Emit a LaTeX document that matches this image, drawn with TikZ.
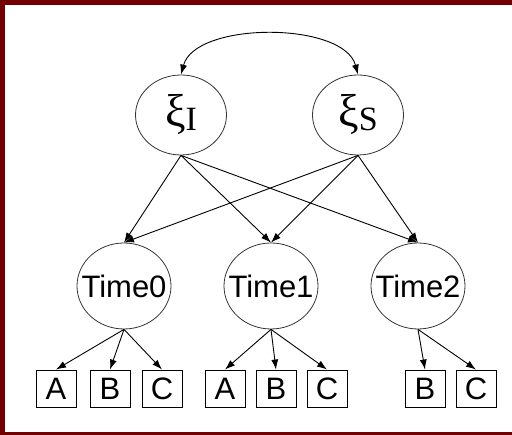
\documentclass[tikz,border=0pt]{standalone}
\usepackage{fontspec}
\setmainfont{Liberation Sans}
\newfontfamily\greekfont{Liberation Serif}
\usetikzlibrary{arrows.meta,shapes}
\definecolor{framered}{RGB}{114,0,0}
\tikzstyle{factor}=[ellipse,draw=black!80,line width=0.8pt,fill=white,
minimum width=91pt,minimum height=80pt,inner sep=0pt]
\tikzstyle{occasion}=[ellipse,draw=black!80,line width=0.8pt,inner xsep=-16pt,
minimum width=94pt,minimum height=86pt,font=\fontsize{31}{31}\selectfont]
\tikzstyle{indicator}=[rectangle,draw,line width=0.9pt,minimum width=40pt,
minimum height=37pt,inner sep=0pt,font=\fontsize{31}{31}\selectfont]
\tikzstyle{link}=[-{Latex[length=10pt,width=7pt]},line width=0.9pt]
\tikzstyle{twoway}=[{Latex[length=10pt,width=7pt]}-{Latex[length=10pt,width=7pt]},line width=0.9pt]
\newcommand{\fac}[1]{{\greekfont\raisebox{4pt}{\fontsize{46}{46}\selectfont ξ}\fontsize{34}{34}\selectfont #1}}

\begin{document}
\begin{tikzpicture}[x=1pt,y=1pt]
            \useasboundingbox (0,0) rectangle (512,435);
            % frame
            \fill[framered] (0,430) rectangle (512,435);
            \fill[framered] (0,0) rectangle (5,435);
            \fill[framered] (0,0) rectangle (512,3);

            % FACTORS

            \node[factor] (xiI) at (181,320) {\fac{I}};
            \node[factor] (xiS) at (358,320) {\fac{S}};

            \path[twoway] (xiI.north) edge[out=75,in=105,looseness=0.8] (xiS.north);

            % OCCASIONS

            \node[occasion] (t0) at (124,149) {Time0};
            \node[occasion] (t1) at (271,149) {Time1};
            \node[occasion] (t2) at (418,149) {Time2};

            \path[link] (xiI.south) edge (t0.north);
            \path[link] (xiI.south) edge (t1.north);
            \path[link] (xiI.south) edge (t2.north);
            \path[link] (xiS.south) edge (t0.north);
            \path[link] (xiS.south) edge (t1.north);
            \path[link] (xiS.south) edge (t2.north);

            % INDICATORS

            \node[indicator] (a0) at (56,46.5) {A};
            \node[indicator] (b0) at (110,46.5) {B};
            \node[indicator] (c0) at (162,46.5) {C};
            \node[indicator] (a1) at (225,46.5) {A};
            \node[indicator] (b1) at (276,46.5) {B};
            \node[indicator] (c1) at (327,46.5) {C};
            \node[indicator] (b2) at (425,46.5) {B};
            \node[indicator] (c2) at (476,46.5) {C};

            \path[link] (t0.south) edge (a0.north);
            \path[link] (t0.south) edge (b0.north);
            \path[link] (t0.south) edge (c0.north);
            \path[link] (t1.south) edge (a1.north);
            \path[link] (t1.south) edge (b1.north);
            \path[link] (t1.south) edge (c1.north);
            \path[link] (t2.south) edge (b2.north);
            \path[link] (t2.south) edge (c2.north);

\end{tikzpicture}
\end{document}
